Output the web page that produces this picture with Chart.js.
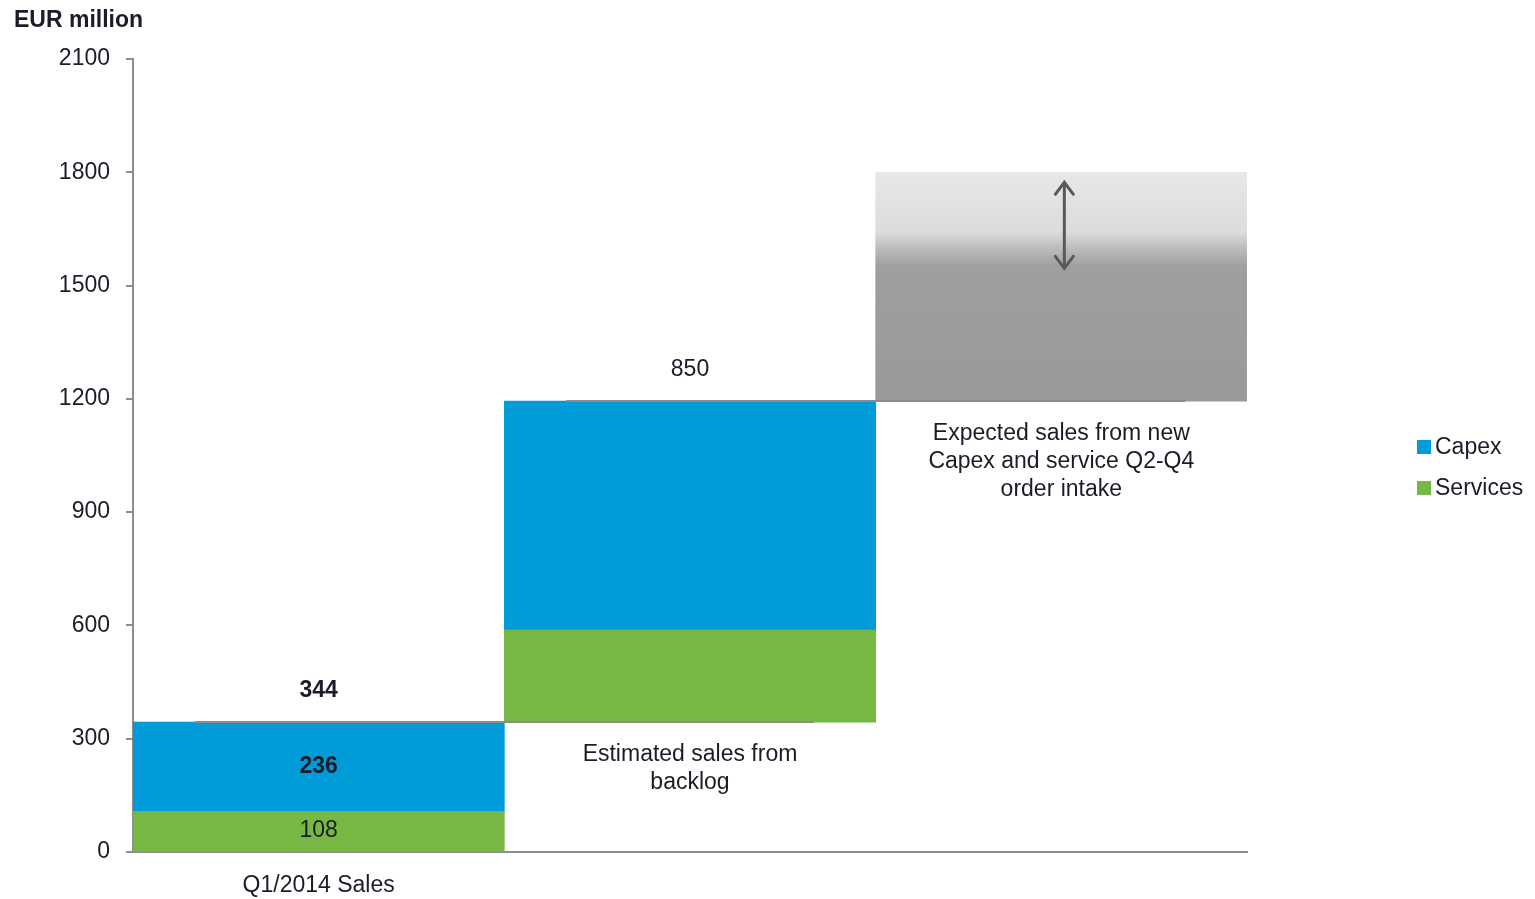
<!DOCTYPE html>
<html>
<head>
<meta charset="utf-8">
<script src="https://cdn.jsdelivr.net/npm/chart.js@4.4.1/dist/chart.umd.min.js"></script>
<style>
  html, body { margin: 0; padding: 0; background: #fff; }
  #wrap { width: 1535px; height: 899px; }
</style>
</head>
<body>
<div id="wrap"><canvas id="myChart"></canvas></div>
<script>
// data (EUR million)
const categories = ['Q1/2014 Sales', 'Estimated sales from backlog', 'Expected sales from new Capex and service Q2-Q4 order intake'];
const categoryLines = [['Q1/2014 Sales'], ['Estimated sales from', 'backlog'], ['Expected sales from new', 'Capex and service Q2-Q4', 'order intake']];
const servicesValues = [108, 244, 0];
const capexValues = [236, 606, 0];
const outlookValues = [0, 0, 606];
const totalLabels = ['344', '850', ''];
const yTicks = [0, 300, 600, 900, 1200, 1500, 1800, 2100];

const FONT = '"Liberation Sans", Arial, sans-serif';
const FSIZE = 23;
const TEXT = '#1c1c28';
const BLUE = '#009cd9';
const GREEN = '#76b843';

// waterfall: each category starts where the previous one ended
const bases = [];
let running = 0;
categories.forEach((c, i) => {
    bases.push(running);
    running += servicesValues[i] + capexValues[i] + outlookValues[i];
});

const servicesRanges = servicesValues.map((v, i) => v ? [bases[i], bases[i] + v] : null);
const capexRanges = capexValues.map((v, i) => v ? [bases[i] + servicesValues[i], bases[i] + servicesValues[i] + v] : null);
const outlookRanges = outlookValues.map((v, i) => v ? [bases[i] + servicesValues[i] + capexValues[i], bases[i] + servicesValues[i] + capexValues[i] + v] : null);

const outlookFill = (ctx) => {
    const chart = ctx.chart;
    const y = chart.scales && chart.scales.y;
    if (!y || !chart.chartArea) return '#9a9a9c';
    const top = y.getPixelForValue(outlookRanges[2][1]);
    const bottom = y.getPixelForValue(outlookRanges[2][0]);
    if (!isFinite(top) || !isFinite(bottom)) return '#9a9a9c';
    const g = chart.ctx.createLinearGradient(0, top, 0, bottom);
    g.addColorStop(0, '#e8e8ea');
    g.addColorStop(0.26, '#dcdcde');
    g.addColorStop(0.33, '#bdbdbf');
    g.addColorStop(0.41, '#9e9fa1');
    g.addColorStop(1, '#98999b');
    return g;
};

const overlay = {
    id: 'overlay',
    afterDatasetsDraw(chart) {
        const ctx = chart.ctx;
        const y = chart.scales.y;
        const sMeta = chart.getDatasetMeta(0);
        const cMeta = chart.getDatasetMeta(1);
        const oMeta = chart.getDatasetMeta(2);
        const barW = sMeta.data[0].width;

        ctx.save();

        // connector lines between steps
        ctx.strokeStyle = '#8c8c8c';
        ctx.lineWidth = 2;
        for (let i = 0; i < categories.length - 1; i++) {
            const level = y.getPixelForValue(bases[i + 1]);
            const x0 = sMeta.data[i].x - barW / 2 + barW / 6;
            const x1 = sMeta.data[i + 1].x + barW / 2 - barW / 6;
            ctx.beginPath();
            ctx.moveTo(x0, level);
            ctx.lineTo(x1, level);
            ctx.stroke();
        }

        // double headed arrow in the outlook bar
        const ob = oMeta.data[2];
        const ax = ob.x + 3;
        const ay0 = ob.y + 10;
        const ay1 = ob.y + 96;
        ctx.strokeStyle = '#58595b';
        ctx.lineWidth = 3;
        ctx.lineCap = 'round';
        ctx.beginPath();
        ctx.moveTo(ax, ay0);
        ctx.lineTo(ax, ay1);
        ctx.moveTo(ax - 9, ay0 + 12);
        ctx.lineTo(ax, ay0);
        ctx.lineTo(ax + 9, ay0 + 12);
        ctx.moveTo(ax - 9, ay1 - 12);
        ctx.lineTo(ax, ay1);
        ctx.lineTo(ax + 9, ay1 - 12);
        ctx.stroke();

        ctx.fillStyle = TEXT;
        ctx.textAlign = 'center';
        ctx.textBaseline = 'middle';

        // segment values in the first bar
        const s0 = sMeta.data[0];
        const c0 = cMeta.data[0];
        ctx.font = FSIZE + 'px ' + FONT;
        ctx.fillText(String(servicesValues[0]), s0.x, (s0.y + s0.base) / 2);
        ctx.font = 'bold ' + FSIZE + 'px ' + FONT;
        ctx.fillText(String(capexValues[0]), c0.x, (c0.y + c0.base) / 2);

        // totals above bars
        totalLabels.forEach((t, i) => {
            if (!t) return;
            const top = y.getPixelForValue(bases[i] + servicesValues[i] + capexValues[i]);
            ctx.font = (i === 0 ? 'bold ' : '') + FSIZE + 'px ' + FONT;
            ctx.fillText(t, sMeta.data[i].x, top - 31);
        });

        // category captions under the floating bars
        ctx.font = FSIZE + 'px ' + FONT;
        for (let i = 1; i < categories.length; i++) {
            const bottom = y.getPixelForValue(bases[i]);
            categoryLines[i].forEach((line, k) => {
                ctx.fillText(line, sMeta.data[i].x, bottom + 33 + k * 28);
            });
        }

        // title
        ctx.textAlign = 'left';
        ctx.font = 'bold ' + FSIZE + 'px ' + FONT;
        ctx.fillText('EUR million', 14, 21);

        // legend
        const items = [[chart.data.datasets[1].label, BLUE], [chart.data.datasets[0].label, GREEN]];
        ctx.font = FSIZE + 'px ' + FONT;
        items.forEach((it, k) => {
            const cy = 447 + k * 41;
            ctx.fillStyle = it[1];
            ctx.fillRect(1417, cy - 7, 14, 14);
            ctx.fillStyle = TEXT;
            ctx.fillText(it[0], 1435, cy + 1);
        });

        ctx.restore();
    }
};

const config = {
    type: 'bar',
    data: {
        labels: categories,
        datasets: [
            { label: 'Services', data: servicesRanges, backgroundColor: GREEN, borderWidth: 0 },
            { label: 'Capex', data: capexRanges, backgroundColor: BLUE, borderWidth: 0 },
            { label: 'Outlook', data: outlookRanges, backgroundColor: outlookFill, borderWidth: 0 }
        ]
    },
    options: {
        responsive: true,
        maintainAspectRatio: false,
        animation: false,
        layout: { padding: { top: 59, right: 288, bottom: 0, left: 0 } },
        datasets: { bar: { barPercentage: 1, categoryPercentage: 1, grouped: false } },
        plugins: {
            legend: { display: false },
            title: { display: false },
            tooltip: { enabled: false }
        },
        scales: {
            x: {
                stacked: true,
                grid: { drawOnChartArea: false, drawTicks: false },
                border: { display: true, color: '#8c8c8c', width: 2 },
                ticks: {
                    color: TEXT,
                    font: { family: FONT, size: FSIZE },
                    padding: 20,
                    maxRotation: 0,
                    autoSkip: false,
                    callback: (v, i) => i === 0 ? categories[0] : ''
                },
                afterFit: (scale) => { scale.height = 47; }
            },
            y: {
                stacked: false,
                min: yTicks[0],
                max: yTicks[yTicks.length - 1],
                afterBuildTicks: (scale) => { scale.ticks = yTicks.map(v => ({ value: v })); },
                grid: { drawOnChartArea: false, drawTicks: true, tickLength: 7, color: '#8c8c8c', lineWidth: 2 },
                border: { display: true, color: '#8c8c8c', width: 2 },
                ticks: {
                    color: TEXT,
                    font: { family: FONT, size: FSIZE },
                    padding: 16,
                    callback: (v) => String(v)
                },
                afterFit: (scale) => { scale.width = 133; }
            }
        }
    },
    plugins: [overlay]
};

const ctx = document.getElementById('myChart').getContext('2d');
new Chart(ctx, config);
</script>
</body>
</html>
